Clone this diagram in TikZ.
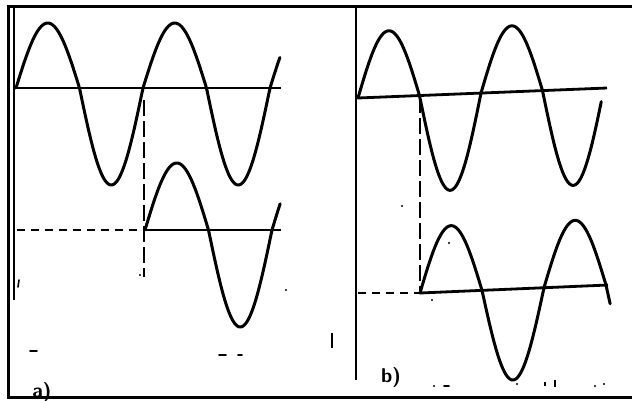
\documentclass[tikz,border=0pt]{standalone}
\begin{document}
\begin{tikzpicture}[x=1pt,y=-1pt,
  wave/.style={line width=3pt, line cap=round, line join=round},
  axisline/.style={line width=2.8pt},
  hdash/.style={line width=2.6pt, dash pattern=on 8pt off 6pt},
  vdash/.style={line width=2.2pt, dash pattern=on 16pt off 5pt},
  framel/.style={line width=3pt},
  speck/.style={line width=1.6pt, line cap=round},
  lbl/.style={font=\sffamily\bfseries\fontsize{20}{20}\selectfont, inner sep=0pt}]
\useasboundingbox (0,0) rectangle (632,400);
% labels
\node[lbl] (la) at (42,392) {a)};
\node[lbl] (lb) at (391,377) {b)};
% ---------- panel a ----------
\coordinate (a1l) at (15,88);  \coordinate (a1r) at (281,88);
\coordinate (a2l) at (17,230); \coordinate (a2m) at (145,230); \coordinate (a2r) at (281,230);
\coordinate (avt) at (144,100); \coordinate (avb) at (144,277);
\draw[axisline] (a1l) -- (a1r);
\draw[hdash] (a2l) -- (a2m);
\draw[axisline] (a2m) -- (a2r);
\draw[vdash] (avt) -- (avb);
\draw[wave] plot[domain=0:748, samples=200, variable=\t]
  ({16+\t/360*127}, {88 - sin(\t)*(sin(\t)>0 ? 65 : 97)});
\draw[wave] plot[domain=0:383, samples=120, variable=\t]
  ({145+\t/360*127}, {230 - sin(\t)*(sin(\t)>0 ? 67 : 97)});
% ---------- panel b ----------
\coordinate (b1l) at (358,98);  \coordinate (b1r) at (607,88);
\coordinate (b2l) at (358,293); \coordinate (b2m) at (420,293); \coordinate (b2r) at (608,285);
\coordinate (bvt) at (420,97); \coordinate (bvb) at (420,292);
\draw[axisline] (b1l) -- (b1r);
\draw[hdash] (b2l) -- (b2m);
\draw[axisline] (b2m) -- (b2r);
\draw[vdash] (bvt) -- (bvb);
\draw[wave] plot[domain=0:712, samples=200, variable=\t]
  ({358+\t/360*123}, {98-(\t/360*123)*0.04 - sin(\t)*(sin(\t)>0 ? 66 : 96)});
\draw[wave] plot[domain=0:552, samples=160, variable=\t]
  ({420+\t/360*124}, {293-(\t/360*124)*0.043 - sin(\t)*(sin(\t)>0 ? 66 : 91)});
% ---------- frame ----------
\coordinate (ftl) at (8,6); \coordinate (ftr) at (632,6);
\coordinate (fbl) at (8,397); \coordinate (fbr) at (632,397);
\coordinate (iltop) at (14,8); \coordinate (ilbot) at (14,300);
\coordinate (dvt) at (356,6); \coordinate (dvb) at (356,380);
\draw[framel] (ftr) -- (ftl) -- (fbl) -- (fbr);
\draw[line width=2pt] (iltop) -- (ilbot);
\draw[line width=2.4pt] (dvt) -- (dvb);
% ---------- specks ----------
\coordinate (s1a) at (332,333); \coordinate (s1b) at (332,348);
\draw[line width=2.6pt] (s1a) -- (s1b);
\coordinate (s2a) at (30,351); \coordinate (s2b) at (37,351);
\draw[speck] (s2a) -- (s2b);
\coordinate (s3a) at (219,355); \coordinate (s3b) at (226,355);
\coordinate (s4a) at (238,355); \coordinate (s4b) at (242,355);
\draw[speck] (s3a) -- (s3b); \draw[speck] (s4a) -- (s4b);
\coordinate (s5a) at (19,280); \coordinate (s5b) at (18,287);
\draw[speck] (s5a) -- (s5b);
\coordinate (s6) at (140,275); \fill (s6) circle (1.2);
\coordinate (s7) at (286,290); \fill (s7) circle (1.2);
\coordinate (s8) at (402,206); \fill (s8) circle (1.2);
\coordinate (s9) at (449,243); \fill (s9) circle (1.2);
\coordinate (s10) at (432,300); \fill (s10) circle (1.1);
\coordinate (s11) at (434,386); \fill (s11) circle (1.1);
\coordinate (s12) at (444,386); \draw[speck] (s12) -- ++(5,0);
\coordinate (s13) at (517,384); \fill (s13) circle (1.2);
\coordinate (s14) at (545,382); \draw[line width=1.6pt] (s14) -- ++(0,4);
\coordinate (s15) at (555,380); \draw[line width=2pt] (s15) -- ++(0,7);
\coordinate (s16) at (595,386); \fill (s16) circle (1.1);
\coordinate (s17) at (604,384); \fill (s17) circle (1.2);
\end{tikzpicture}
\end{document}
